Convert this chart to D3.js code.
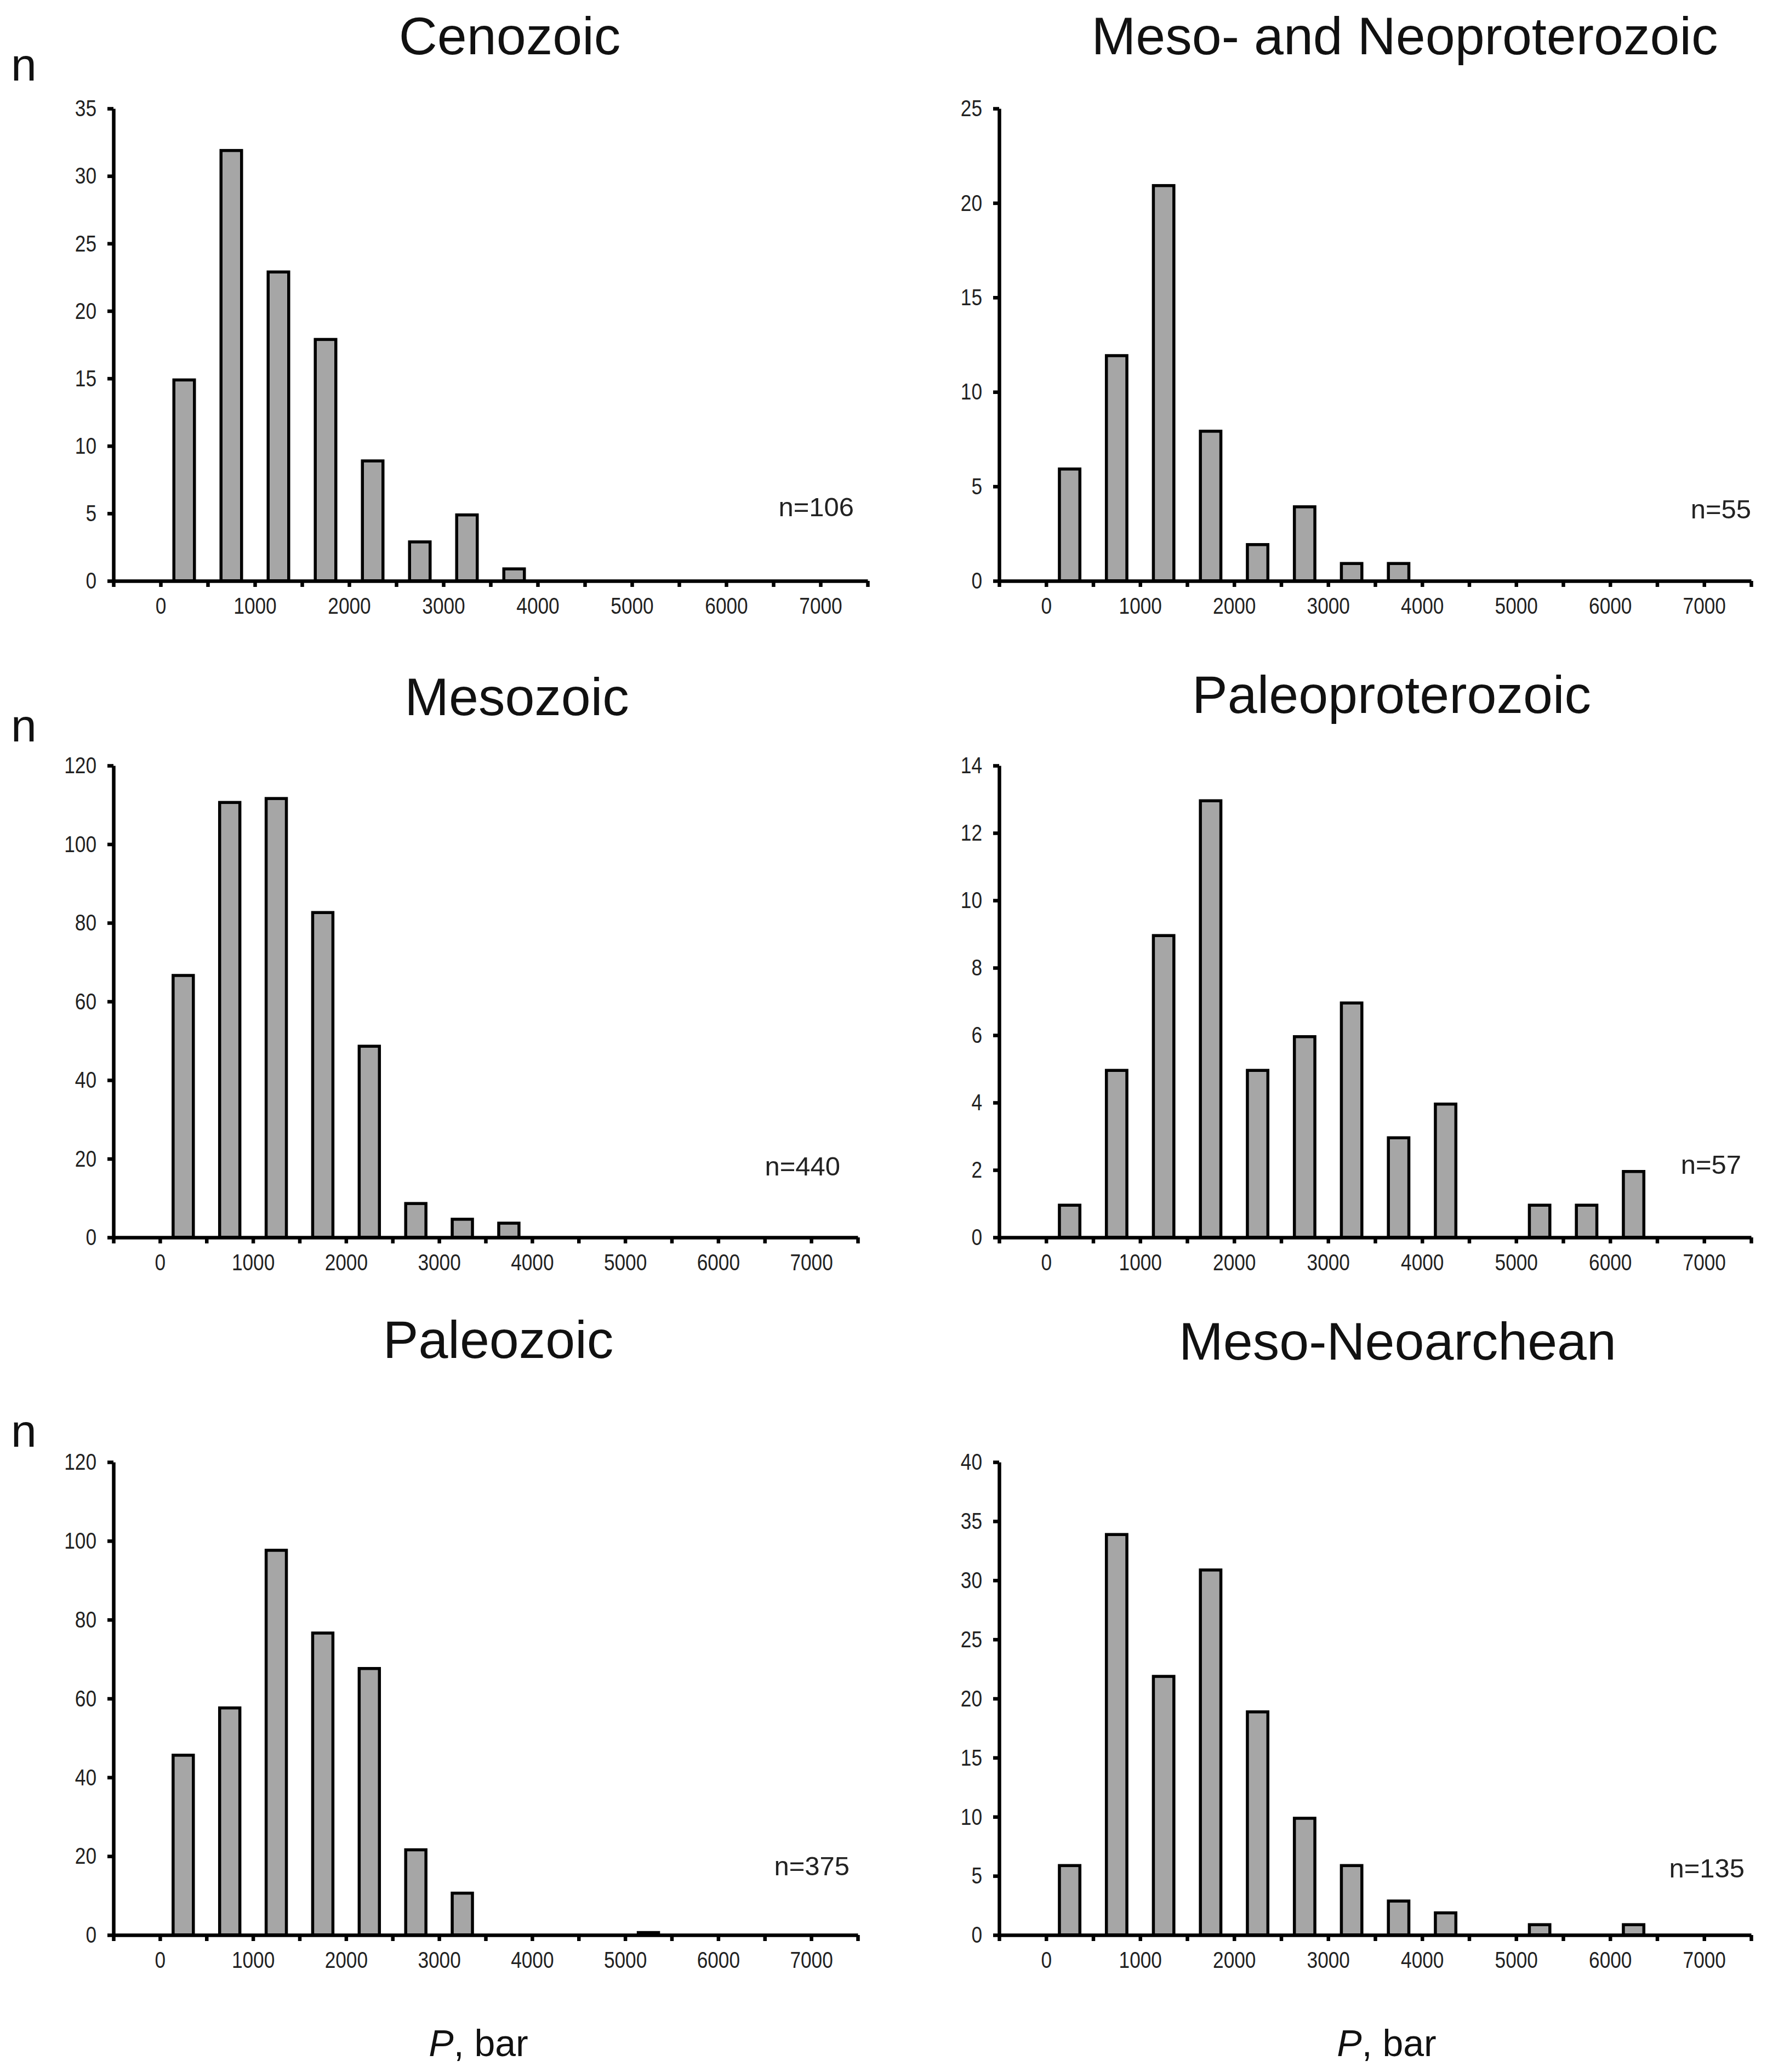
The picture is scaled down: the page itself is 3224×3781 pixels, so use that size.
<!DOCTYPE html>
<html>
<head>
<meta charset="utf-8">
<script src="https://cdn.jsdelivr.net/npm/d3@7"></script>
<style>
  body { margin: 0; background: #fff; }
  svg { display: block; }
</style>
</head>
<body>
<div id="chart"></div>
<script>
// panel titles, in reading order (left/right, top to bottom)
var titles = ["Cenozoic", "Meso- and Neoproterozoic", "Mesozoic",
              "Paleoproterozoic", "Paleozoic", "Meso-Neoarchean"];

// lower edges of the 500 bar pressure bins
var binStarts = [0, 500, 1000, 1500, 2000, 2500, 3000, 3500,
                 4000, 4500, 5000, 5500, 6000, 6500, 7000];

// counts per bin
var cenozoic        = [15, 32, 23, 18, 9, 3, 5, 1];
var mesoNeoprot     = [6, 12, 21, 8, 2, 4, 1, 1];
var mesozoic        = [67, 111, 112, 83, 49, 9, 5, 4];
var paleoprot       = [1, 5, 9, 13, 5, 6, 7, 3, 4, 0, 1, 1, 2];
var paleozoic       = [46, 58, 98, 77, 68, 22, 11, 0, 0, 0, 1];
var mesoNeoarchean  = [6, 34, 22, 31, 19, 10, 6, 3, 2, 0, 1, 0, 1];

var counts = ["n=106", "n=55", "n=440", "n=57", "n=375", "n=135"];

// y axis extents and steps
var yMax  = [35, 25, 120, 14, 120, 40];
var yStep = [5, 5, 20, 2, 20, 5];

// x axis tick marks (every 500) and labelled ticks
var xTickMarks  = [-500, 0, 500, 1000, 1500, 2000, 2500, 3000, 3500,
                   4000, 4500, 5000, 5500, 6000, 6500, 7000, 7500];
var xTickLabels = [0, 1000, 2000, 3000, 4000, 5000, 6000, 7000];

var series = [cenozoic, mesoNeoprot, mesozoic, paleoprot, paleozoic, mesoNeoarchean];

//the size of the screen
var screen = {width: 3224, height: 3781};

// where each panel sits on the page
var layout = [
    {left: 207,  right: 1583, top: 198,  bottom: 1060, tx: 930,  ty: 99,   nx: 1558, ny: 942},
    {left: 1823, right: 3195, top: 198,  bottom: 1060, tx: 2563, ty: 99,   nx: 3195, ny: 946},
    {left: 207,  right: 1565, top: 1397, bottom: 2258, tx: 943,  ty: 1305, nx: 1533, ny: 2145},
    {left: 1823, right: 3195, top: 1397, bottom: 2258, tx: 2539, ty: 1301, nx: 3177, ny: 2142},
    {left: 207,  right: 1565, top: 2668, bottom: 3531, tx: 909,  ty: 2478, nx: 1550, ny: 3422},
    {left: 1823, right: 3195, top: 2668, bottom: 3531, tx: 2550, ty: 2481, nx: 3183, ny: 3426}
];

var mainFont = "'Liberation Sans', Arial, Helvetica, sans-serif";

var svg = d3.select("#chart")
    .append("svg")
    .attr("width", screen.width)
    .attr("height", screen.height);

// squeeze tick labels so they look like the narrow face of the original
var condense = function(sel, factor)
{
    sel.each(function() {
        var len = this.getComputedTextLength();
        if (len > 0) {
            d3.select(this)
              .attr("textLength", len * factor)
              .attr("lengthAdjust", "spacingAndGlyphs");
        }
    });
}

var drawPanel = function(i)
{
    var box = layout[i];
    var data = series[i];

    var xScale = d3.scaleLinear()
        .domain([-500, 7500])
        .range([box.left, box.right]);

    var yScale = d3.scaleLinear()
        .domain([0, yMax[i]])
        .range([box.bottom, box.top]);

    var g = svg.append("g").classed("panel", true);

    // bars: each one covers half of its bin, centred on it
    var bw = 5.5;
    g.selectAll("rect")
        .data(data.map(function(v, k) { return {start: binStarts[k], value: v}; })
                  .filter(function(d) { return d.value > 0; }))
        .enter()
        .append("rect")
        .attr("x", function(d) { return xScale(d.start + 125) + bw / 2; })
        .attr("width", function(d) { return xScale(d.start + 375) - xScale(d.start + 125) - bw; })
        .attr("y", function(d) { return yScale(d.value) + bw / 2; })
        .attr("height", function(d) { return yScale(0) - yScale(d.value) - bw / 2; })
        .attr("fill", "#a6a6a6")
        .attr("stroke", "#000")
        .attr("stroke-width", bw);

    var xAxis = d3.axisBottom(xScale)
        .tickValues(xTickMarks)
        .tickSize(11)
        .tickSizeOuter(0)
        .tickPadding(18)
        .tickFormat(function(d) { return xTickLabels.indexOf(d) >= 0 ? d : ""; });

    var yAxis = d3.axisLeft(yScale)
        .tickValues(d3.range(0, yMax[i] + yStep[i] / 2, yStep[i]))
        .tickSize(11)
        .tickSizeOuter(0)
        .tickPadding(20);

    var gx = g.append("g")
        .attr("transform", "translate(0," + box.bottom + ")")
        .call(xAxis);

    var gy = g.append("g")
        .attr("transform", "translate(" + box.left + ",0)")
        .call(yAxis);

    [gx, gy].forEach(function(ax) {
        ax.attr("font-family", mainFont).attr("font-size", 43);
        ax.selectAll("path, line").attr("stroke", "#000").attr("stroke-width", 6.5);
        ax.selectAll("text").attr("fill", "#222");
        condense(ax.selectAll("text"), 0.82);
    });

    // panel title
    g.append("text")
        .attr("x", box.tx)
        .attr("y", box.ty)
        .attr("text-anchor", "middle")
        .attr("font-family", mainFont)
        .attr("font-size", 97)
        .attr("fill", "#111")
        .text(titles[i]);

    // sample size
    g.append("text")
        .attr("x", box.nx)
        .attr("y", box.ny)
        .attr("text-anchor", "end")
        .attr("font-family", mainFont)
        .attr("font-size", 49)
        .attr("fill", "#222")
        .text(counts[i]);
}

for (var i = 0; i < series.length; i++) { drawPanel(i); }

// "n" on the left of each row
[147, 1353, 2640].forEach(function(y) {
    svg.append("text")
        .attr("x", 20)
        .attr("y", y)
        .attr("font-family", mainFont)
        .attr("font-size", 84)
        .attr("fill", "#111")
        .text("n");
});

// pressure label under each column
[873, 2530].forEach(function(x) {
    var t = svg.append("text")
        .attr("x", x)
        .attr("y", 3752)
        .attr("text-anchor", "middle")
        .attr("font-family", mainFont)
        .attr("font-size", 68)
        .attr("fill", "#111");
    t.append("tspan").attr("font-style", "italic").text("P");
    t.append("tspan").text(", bar");
});
</script>
</body>
</html>
